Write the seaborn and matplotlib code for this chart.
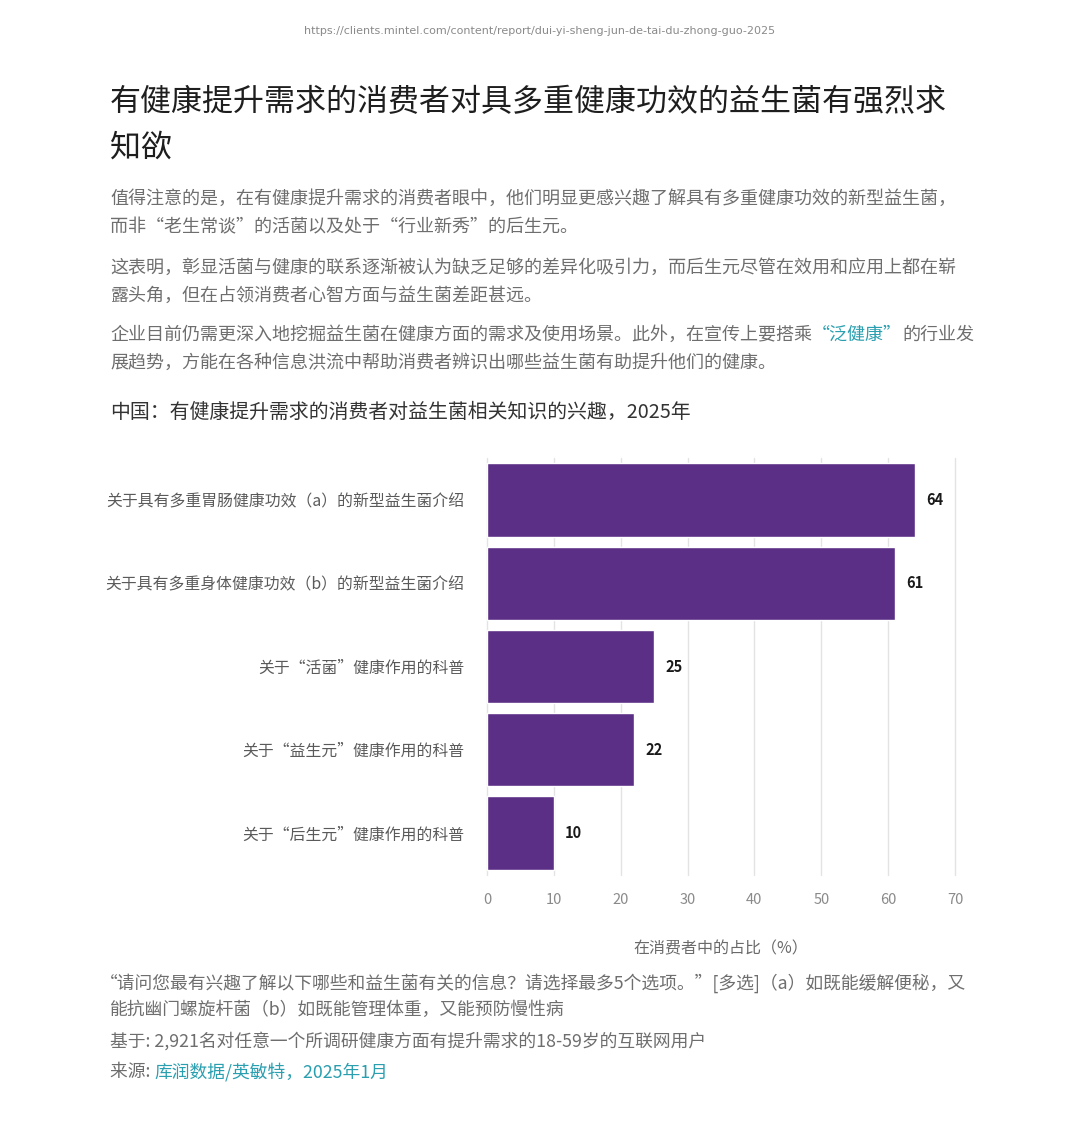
import matplotlib
matplotlib.use("Agg")
import matplotlib.pyplot as plt
import seaborn as sns
import pandas as pd

# ---- data ----
categories = [
    "关于具有多重胃肠健康功效（a）的新型益生菌介绍",
    "关于具有多重身体健康功效（b）的新型益生菌介绍",
    "关于“活菌”健康作用的科普",
    "关于“益生元”健康作用的科普",
    "关于“后生元”健康作用的科普",
]
values = [64, 61, 25, 22, 10]
xticks = [0, 10, 20, 30, 40, 50, 60, 70]

url_text = "https://clients.mintel.com/content/report/dui-yi-sheng-jun-de-tai-du-zhong-guo-2025"
title_lines = ["有健康提升需求的消费者对具多重健康功效的益生菌有强烈求", "知欲"]
chart_subtitle = "中国：有健康提升需求的消费者对益生菌相关知识的兴趣，2025年"
x_label = "在消费者中的占比（%）"

W, H = 1080, 1136
sns.set_theme(style="whitegrid")
plt.rcParams['font.family'] = ['Noto Sans CJK SC', 'DejaVu Sans']

fig = plt.figure(figsize=(W / 100, H / 100), dpi=100)
fig.patch.set_facecolor("white")

def fy(px):
    return 1 - px / H

def fx(px):
    return px / W

renderer = fig.canvas.get_renderer()

def segments(xpx, ypx, segs, size, style="normal"):
    x = fx(xpx)
    for txt, col in segs:
        t = fig.text(x, fy(ypx), txt, color=col, fontsize=size, va="center",
                     ha="left", style=style)
        bb = t.get_window_extent(renderer=renderer)
        x = fx(bb.x1)

GRAY = "#6e6e6e"
TEAL = "#2a9fb0"

# URL
fig.text(0.5, fy(31), url_text, ha="center", va="center", fontsize=8, color="#8a8a8a",
         family=["Liberation Sans Narrow", "DejaVu Sans"])

# Title
fig.text(fx(110), fy(103), title_lines[0], fontsize=22.3, color="#1e1e1e", va="center")
fig.text(fx(110), fy(148), title_lines[1], fontsize=22.3, color="#1e1e1e", va="center")

# Paragraphs
segments(110, 199, [("值得注意的是，在有健康提升需求的消费者眼中，他们明显更感兴趣了解具有多重健康功效的新型益生菌，", GRAY)], 13)
segments(110, 227, [("而非“老生常谈”的活菌以及处于“行业新秀”的后生元。", GRAY)], 13)
segments(110, 268, [("这表明，彰显活菌与健康的联系逐渐被认为缺乏足够的差异化吸引力，而后生元尽管在效用和应用上都在崭", GRAY)], 13)
segments(110, 296, [("露头角，但在占领消费者心智方面与益生菌差距甚远。", GRAY)], 13)
segments(110, 335, [("企业目前仍需更深入地挖掘益生菌在健康方面的需求及使用场景。此外，在宣传上要搭乘", GRAY),
                    ("“泛健康”", TEAL), ("的行业发", GRAY)], 13)
segments(110, 363, [("展趋势，方能在各种信息洪流中帮助消费者辨识出哪些益生菌有助提升他们的健康。", GRAY)], 13)

# Chart subtitle
fig.text(fx(110), fy(412), chart_subtitle, fontsize=14.3, color="#333333", va="center")

# Chart
ax = fig.add_axes([fx(487), fy(874.6), fx(955) - fx(487), (874.6 - 458.4) / H])
df = pd.DataFrame({"category": categories, "value": values})
sns.barplot(data=df, x="value", y="category", color="#5C2F86", saturation=1,
            width=0.88, ax=ax, orient="h")
ax.set_xlim(0, 70)
ax.set_ylim(4.5, -0.5)
ax.set_xticks(xticks)
ax.set_xticklabels([str(v) for v in xticks], fontsize=10.5, color="#8a8a8a")
ax.tick_params(axis="x", pad=13, length=0)
ax.tick_params(axis="y", pad=16, length=0, labelsize=11.4, labelcolor="#5a5a5a")
ax.set_ylabel("")
ax.set_xlabel(x_label, fontsize=11.5, color="#6a6a6a", labelpad=24)
ax.grid(axis="x", color="#e3e3e3", linewidth=1)
ax.grid(axis="y", visible=False)
for gl in ax.get_xgridlines():
    gl.set_clip_on(False)
ax.set_facecolor("white")
for s in ax.spines.values():
    s.set_visible(False)
for c in ax.containers:
    ax.bar_label(c, labels=[str(v) for v in values], padding=8, fontsize=10.5,
                 fontweight="bold", color="#1a1a1a")

# Footnotes
segments(100, 983, [("“请问您最有兴趣了解以下哪些和益生菌有关的信息？请选择最多5个选项。”[多选]（a）如既能缓解便秘，又", GRAY)], 12.8, "italic")
segments(110, 1010, [("能抗幽门螺旋杆菌（b）如既能管理体重，又能预防慢性病", GRAY)], 12.8, "italic")
segments(110, 1041, [("基于: 2,921名对任意一个所调研健康方面有提升需求的18-59岁的互联网用户", GRAY)], 12.8, "italic")
segments(110, 1072, [("来源: ", GRAY), ("库润数据/英敏特，2025年1月", TEAL)], 12.8, "italic")

fig.savefig("out.png", dpi=100, facecolor="white")
